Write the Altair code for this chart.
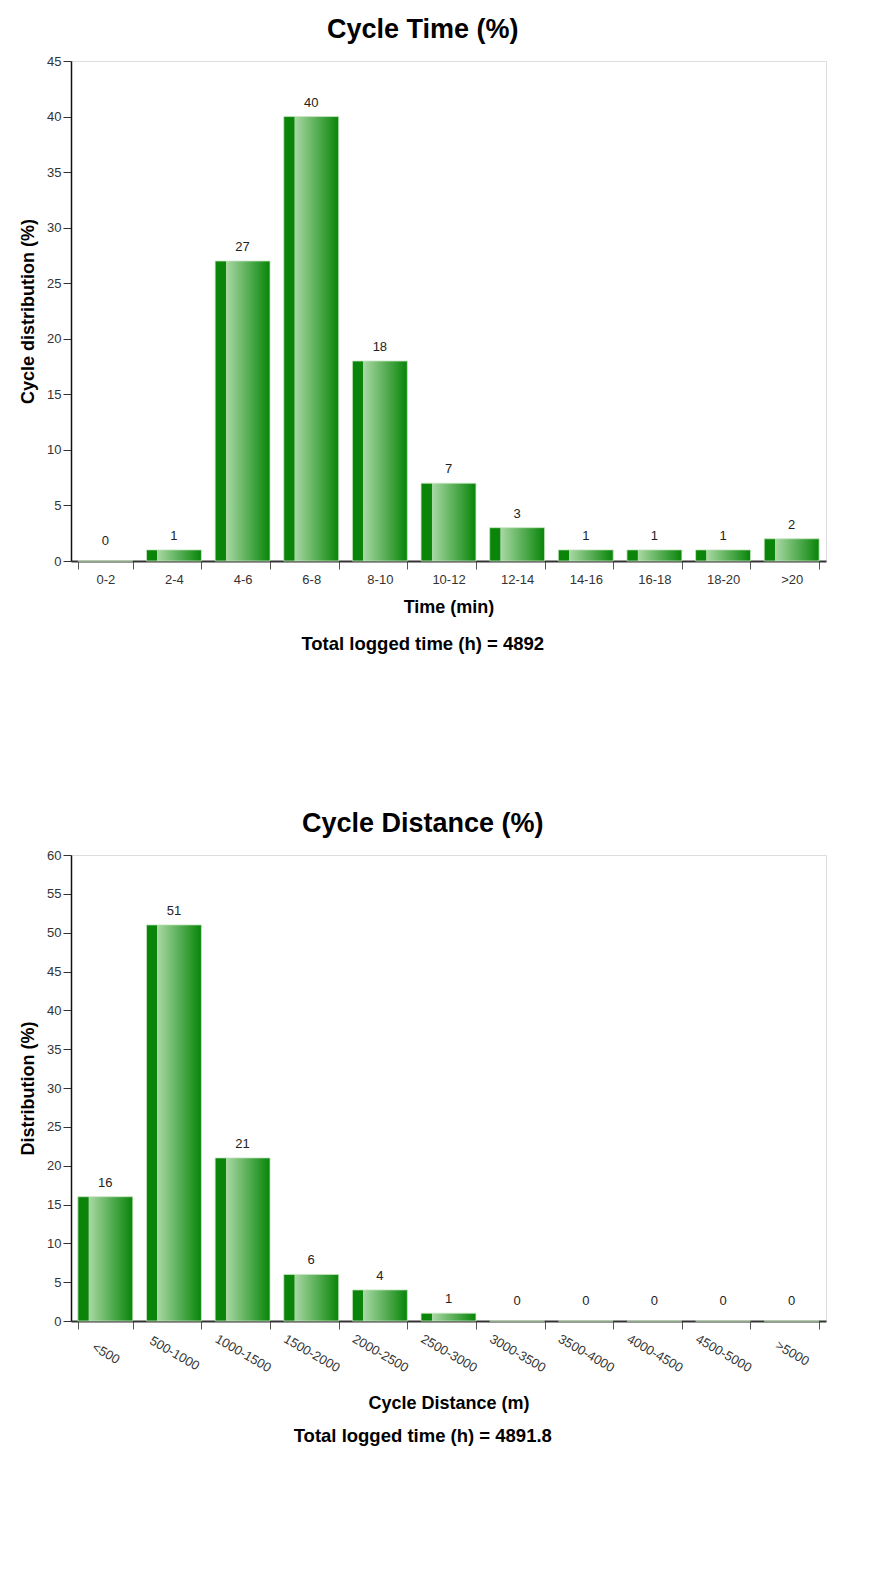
import altair as alt
import pandas as pd

time_cats = ["0-2", "2-4", "4-6", "6-8", "8-10", "10-12", "12-14", "14-16", "16-18", "18-20", ">20"]
time_vals = [0, 1, 27, 40, 18, 7, 3, 1, 1, 1, 2]

dist_cats = ["<500", "500-1000", "1000-1500", "1500-2000", "2000-2500", "2500-3000",
             "3000-3500", "3500-4000", "4000-4500", "4500-5000", ">5000"]
dist_vals = [16, 51, 21, 6, 4, 1, 0, 0, 0, 0, 0]

FONT = "Liberation Sans"

grad = alt.Gradient(
    gradient="linear",
    x1=0, x2=1, y1=0, y2=0,
    stops=[
        alt.GradientStop(offset=0, color="#0a850a"),
        alt.GradientStop(offset=0.19, color="#0a850a"),
        alt.GradientStop(offset=0.2, color="#a9d8a4"),
        alt.GradientStop(offset=0.95, color="#118a11"),
        alt.GradientStop(offset=1, color="#0a850a"),
    ],
)


def make_panel(cats, vals, title, ytitle, xtitle, total, ymax, h, rotate, total_offset):
    df = pd.DataFrame({"cat": cats, "val": vals})
    x_axis = dict(
        title=xtitle,
        titleFontSize=18,
        titleFontWeight="bold",
        titleColor="#000",
        labelFontSize=13,
        labelColor="#333",
        tickBand="extent",
        tickSize=8,
        tickColor="#555",
        domainColor="#333",
        domainWidth=2,
        labelFont=FONT,
        titleFont=FONT,
    )
    if rotate:
        x_axis.update(labelAngle=30, labelAlign="center", labelBaseline="middle",
                      labelPadding=24, titlePadding=20)
    else:
        x_axis.update(labelAngle=0, labelPadding=4, titlePadding=12)
    x = alt.X("cat:N", sort=cats, axis=alt.Axis(**x_axis),
              scale=alt.Scale(paddingInner=0.2, paddingOuter=0.1))
    y = alt.Y("val:Q",
              scale=alt.Scale(domain=[0, ymax], nice=False),
              axis=alt.Axis(
                  title=ytitle,
                  values=list(range(0, ymax + 1, 5)),
                  labelOverlap=False,
                  titleFontSize=18,
                  titleFontWeight="bold",
                  titleColor="#000",
                  titlePadding=9,
                  labelFontSize=13,
                  labelColor="#333",
                  labelPadding=2,
                  tickSize=8,
                  tickColor="#333",
                  domainColor="#111",
                  domainWidth=1.5,
                  grid=False,
                  labelFont=FONT,
                  titleFont=FONT,
              ))
    base = alt.Chart(df)
    bars = base.mark_bar(color=grad, stroke="#c8e6c0", strokeWidth=0.8).encode(x=x, y=y)
    text = base.transform_filter("datum.val > 0").mark_text(
        baseline="bottom", dy=-7, fontSize=13, color="#222", font=FONT).encode(
        x=x, y=y, text="val:Q")
    text0 = base.transform_filter("datum.val == 0").mark_text(
        baseline="bottom", dy=-13, fontSize=13, color="#222", font=FONT).encode(
        x=x, y=y, text="val:Q")
    inner = (bars + text + text0).properties(
        width=755, height=h,
        title=alt.TitleParams(title, fontSize=27, fontWeight="bold", font=FONT, color="#000",
                              offset=11, frame="bounds"),
    )
    return alt.vconcat(
        inner,
        title=alt.TitleParams(total, orient="bottom", anchor="middle", frame="bounds",
                              fontSize=18.5, fontWeight="bold", font=FONT, color="#000",
                              offset=total_offset),
    )


c1 = make_panel(time_cats, time_vals, "Cycle Time (%)", "Cycle distribution (%)", "Time (min)",
                "Total logged time (h) = 4892", 45, 500, False, 18)
c2 = make_panel(dist_cats, dist_vals, "Cycle Distance (%)", "Distribution (%)", "Cycle Distance (m)",
                "Total logged time (h) = 4891.8", 60, 466, True, 14)

chart = alt.vconcat(c1, c2, spacing=156).properties(
    padding={"left": 11, "top": 7, "right": 5, "bottom": 5}
).configure_view(stroke="#f2f2f2").configure(font=FONT)

chart.save("out.html", embed_options={"renderer": "svg", "actions": False})
